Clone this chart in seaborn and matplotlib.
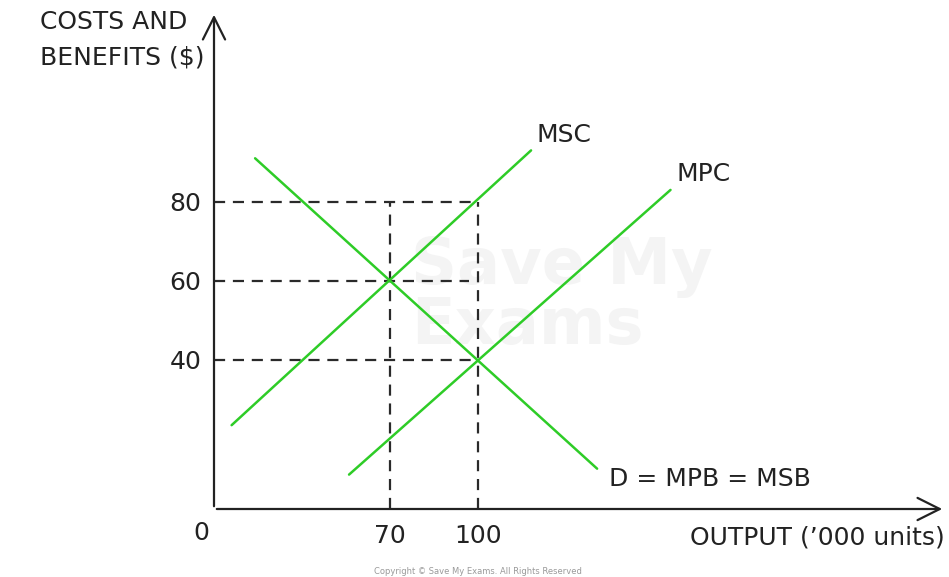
import matplotlib
matplotlib.use("Agg")
import matplotlib.pyplot as plt
import seaborn as sns
import pandas as pd

# curve end points (output '000 units, $)
msc_x = [16, 118]
msc_y = [23.5, 93]
mpc_x = [56, 165.5]
mpc_y = [11, 83]
d_x = [24, 140.5]
d_y = [91, 12.5]

# equilibrium guide values
q_ticks = [70, 100]
p_ticks = [40, 60, 80]
curve_names = ["MSC", "MPC", "D = MPB = MSB"]

GREEN = "#2ecc27"
INK = "#222222"

sns.set_style("white")
plt.rcParams['font.family'] = ['DejaVu Sans']

df = pd.concat([
    pd.DataFrame({"x": msc_x, "y": msc_y, "curve": curve_names[0]}),
    pd.DataFrame({"x": mpc_x, "y": mpc_y, "curve": curve_names[1]}),
    pd.DataFrame({"x": d_x, "y": d_y, "curve": curve_names[2]}),
])

fig = plt.figure(figsize=(9.49, 5.77), dpi=100)
W, H = 949, 577
ax = fig.add_axes([214 / W, (H - 509) / H, (945 - 214) / W, (509 - 12) / H])
ax.set_xlim(10, 259)
ax.set_ylim(2.3, 128)

# watermark
ax.text(77, 56, "Save My\nExams", fontsize=46, color="#f4f4f4",
        ha="left", va="center", fontweight="bold", zorder=0,
        linespacing=0.95)

# dashed guides
dash = dict(color="#2a2a2a", lw=1.6, ls=(0, (5, 3.5)))
ax.hlines(p_ticks[2], 10, q_ticks[1], **dash)
ax.hlines(p_ticks[1], 10, 97, **dash)
ax.hlines(p_ticks[0], 10, q_ticks[1], **dash)
ax.vlines(q_ticks[0], 2.3, p_ticks[2], **dash)
ax.vlines(q_ticks[1], 2.3, p_ticks[2], **dash)

sns.lineplot(data=df, x="x", y="y", units="curve", estimator=None,
             color=GREEN, lw=1.8, ax=ax, sort=False, legend=False)

# axes drawn as arrows
for s in ax.spines.values():
    s.set_visible(False)
arrow = dict(arrowstyle="->", color=INK, lw=1.6, mutation_scale=40)
ax.annotate("", xy=(0, 1), xytext=(0, 0), xycoords="axes fraction",
            arrowprops=arrow)
ax.annotate("", xy=(1, 0), xytext=(0, 0), xycoords="axes fraction",
            arrowprops=arrow)

ax.set_xticks(q_ticks)
ax.set_xticklabels([str(v) for v in q_ticks])
ax.set_yticks(p_ticks)
ax.set_yticklabels([str(v) for v in p_ticks])
ax.tick_params(length=0, labelsize=18, colors=INK)
ax.tick_params(axis="y", pad=9)
ax.tick_params(axis="x", pad=11)
ax.set_xlabel("")
ax.set_ylabel("")

# curve labels
ax.text(msc_x[1] + 2, msc_y[1] + 4, curve_names[0], fontsize=18,
        color=INK, va="center", ha="left")
ax.text(mpc_x[1] + 2, mpc_y[1] + 4, curve_names[1], fontsize=18,
        color=INK, va="center", ha="left")
ax.text(d_x[1] + 4, d_y[1] - 2.5, curve_names[2], fontsize=18,
        color=INK, va="center", ha="left")

fig.text(201 / W, 1 - 533 / H, "0", fontsize=18, color=INK,
         ha="center", va="center")
fig.text(945 / W, 1 - 537 / H, "OUTPUT (\u2019000 units)", fontsize=18,
         color=INK, ha="right", va="center")
fig.text(40 / W, 1 - 10 / H, "COSTS AND\nBENEFITS ($)", fontsize=18,
         color=INK, ha="left", va="top", linespacing=1.6)

# copyright
fig.text(478 / W, 1 - 572 / H,
         "Copyright \u00a9 Save My Exams. All Rights Reserved",
         fontsize=6, color="#9a9a9a", ha="center", va="center")

fig.savefig("out.png", dpi=100)
